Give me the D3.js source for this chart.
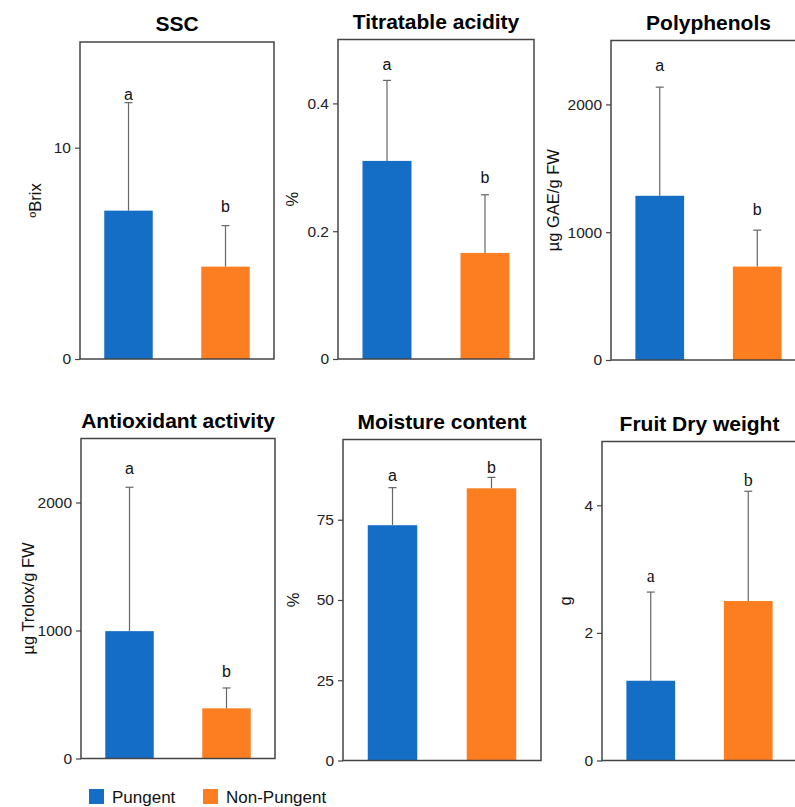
<!DOCTYPE html>
<html>
<head>
<meta charset="utf-8">
<script src="https://cdn.jsdelivr.net/npm/d3@7"></script>
<style>
  body { margin: 0; background: #fff; }
  text { font-family: "Liberation Sans", Arial, sans-serif; }
</style>
</head>
<body>
<div id="mainContainer"></div>
<script>
// values (mean and upper error = SD)
var titles = ["SSC", "Titratable acidity", "Polyphenols", "Antioxidant activity", "Moisture content", "Fruit Dry weight"];
var yLabels = ["ºBrix", "%", "µg GAE/g FW", "µg Trolox/g FW", "%", "g"];
var groups = ["Pungent", "Non-Pungent"];
var pungentMean = [7.02, 0.31, 1285, 995, 73.3, 1.25];
var pungentSD = [5.11, 0.126, 850, 1124, 11.7, 1.39];
var nonPungentMean = [4.37, 0.166, 731, 392, 84.8, 2.50];
var nonPungentSD = [1.94, 0.091, 285, 159, 3.4, 1.72];
var yMax = [15, 0.5, 2500, 2500, 100, 5];
var yTicks = [[0, 10], [0, 0.2, 0.4], [0, 1000, 2000], [0, 1000, 2000], [0, 25, 50, 75], [0, 2, 4]];
var letters = [["a", "b"], ["a", "b"], ["a", "b"], ["a", "b"], ["a", "b"], ["a", "b"]];

var colors = { "Pungent": "#156ec6", "Non-Pungent": "#fd7e21" };

// panel frames, label offset and gap between letter and error cap
var boxes = [
    { x: 80, y: 42, w: 194, h: 317, lab: 45, gap: [3, 14] },
    { x: 338, y: 39.5, w: 196, h: 319.5, lab: 46, gap: [10, 12] },
    { x: 611, y: 40.5, w: 195, h: 319.5, lab: 58, gap: [16, 15] },
    { x: 81, y: 438.5, w: 194, h: 320, lab: 53, gap: [13, 11] },
    { x: 343, y: 439.5, w: 198, h: 321, lab: 50, gap: [7, 4] },
    { x: 602, y: 441.5, w: 195, h: 319, lab: 37, gap: [10, 5] }
];

var svg = d3.select('#mainContainer').append('svg')
    .attr('width', 795)
    .attr('height', 807);

svg.append('rect').attr('width', 795).attr('height', 807).attr('fill', '#fff');

titles.forEach(function (title, i) {
    var b = boxes[i];
    var g = svg.append('g')
        .attr('transform', 'translate(' + b.x + ',' + b.y + ')');

    var x = d3.scaleBand()
        .domain(groups)
        .range([0, b.w])
        .paddingInner(0.5)
        .paddingOuter(0.25);

    var y = d3.scaleLinear()
        .domain([0, yMax[i]])
        .range([b.h, 0]);

    var data = [
        { grp: groups[0], mean: pungentMean[i], sd: pungentSD[i], letter: letters[i][0], gap: b.gap[0] },
        { grp: groups[1], mean: nonPungentMean[i], sd: nonPungentSD[i], letter: letters[i][1], gap: b.gap[1] }
    ];

    g.selectAll('rect.bar')
        .data(data)
        .enter()
        .append('rect')
        .attr('class', 'bar')
        .attr('x', function (d) { return x(d.grp); })
        .attr('width', x.bandwidth())
        .attr('y', function (d) { return y(d.mean); })
        .attr('height', function (d) { return b.h - y(d.mean); })
        .attr('fill', function (d) { return colors[d.grp]; });

    // error bars (upper only)
    var err = g.selectAll('g.err')
        .data(data)
        .enter()
        .append('g')
        .attr('stroke', '#666')
        .attr('stroke-width', 1.2);
    err.append('line')
        .attr('x1', function (d) { return x(d.grp) + x.bandwidth() / 2; })
        .attr('x2', function (d) { return x(d.grp) + x.bandwidth() / 2; })
        .attr('y1', function (d) { return y(d.mean); })
        .attr('y2', function (d) { return y(d.mean + d.sd); });
    err.append('line')
        .attr('x1', function (d) { return x(d.grp) + x.bandwidth() / 2 - 4; })
        .attr('x2', function (d) { return x(d.grp) + x.bandwidth() / 2 + 4; })
        .attr('y1', function (d) { return y(d.mean + d.sd); })
        .attr('y2', function (d) { return y(d.mean + d.sd); });

    g.selectAll('text.letter')
        .data(data)
        .enter()
        .append('text')
        .attr('x', function (d) { return x(d.grp) + x.bandwidth() / 2; })
        .attr('y', function (d) { return y(d.mean + d.sd) - d.gap; })
        .attr('text-anchor', 'middle')
        .attr('font-size', i == 5 ? '18px' : '16px')
        .style('font-family', i == 5 ? '"Liberation Serif", serif' : null)
        .attr('fill', '#111')
        .text(function (d) { return d.letter; });

    // frame
    g.append('rect')
        .attr('width', b.w)
        .attr('height', b.h)
        .attr('fill', 'none')
        .attr('stroke', '#444')
        .attr('stroke-width', 1.5);

    var ax = g.append('g')
        .call(d3.axisLeft(y).tickValues(yTicks[i]).tickSize(5).tickSizeOuter(0).tickFormat(d3.format('')));
    ax.select('.domain').remove();
    ax.selectAll('line').attr('stroke', '#444').attr('stroke-width', 1.2);
    ax.selectAll('text')
        .attr('font-size', '15.5px')
        .attr('font-family', '"Liberation Sans", Arial, sans-serif')
        .attr('fill', '#222')
        .attr('x', -9);

    g.append('text')
        .attr('transform', 'rotate(-90)')
        .attr('x', -b.h / 2)
        .attr('y', -b.lab + 6)
        .attr('text-anchor', 'middle')
        .attr('font-size', '16.5px')
        .attr('fill', '#111')
        .text(yLabels[i]);

    g.append('text')
        .attr('x', b.w / 2)
        .attr('y', -11)
        .attr('text-anchor', 'middle')
        .attr('font-size', '21px')
        .attr('font-weight', 'bold')
        .attr('fill', '#000')
        .text(title);
});

// legend
var legend = svg.append('g').attr('transform', 'translate(89,789)');
var lx = [0, 114];
groups.forEach(function (grp, i) {
    legend.append('rect')
        .attr('x', lx[i])
        .attr('y', 0)
        .attr('width', 15)
        .attr('height', 15)
        .attr('fill', colors[grp]);
    legend.append('text')
        .attr('x', lx[i] + 23)
        .attr('y', 14)
        .attr('font-size', '17px')
        .attr('fill', '#111')
        .text(grp);
});
</script>
</body>
</html>
